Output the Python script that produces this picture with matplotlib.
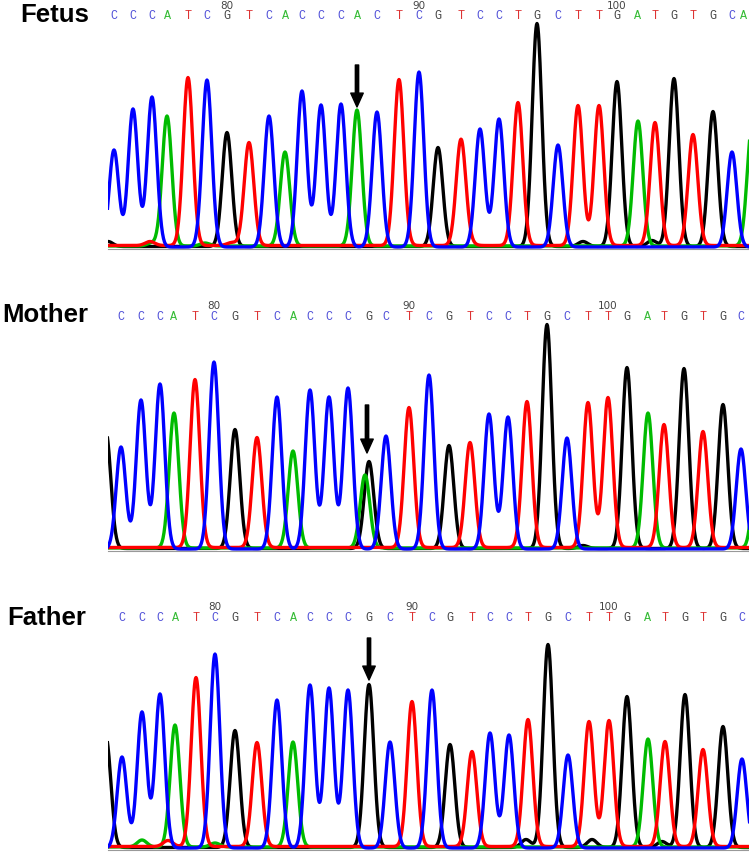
import numpy as np
import matplotlib
matplotlib.use('Agg')
import matplotlib.pyplot as plt

# base calls, peak positions (scan units) and peak heights
fetus_bases = list("CCCATCGTCACCCACTCGTCCTGCTTGATGTGCA")
fetus_pos = [114, 133, 152, 167, 188, 207, 227, 249, 269, 285,
             302, 321, 341, 357, 377, 399, 419, 438, 461, 480,
             499, 518, 537, 558, 578, 599, 617, 638, 655, 674,
             693, 713, 732, 752]
fetus_height = [97, 138, 150, 130, 168, 167, 114, 103, 131, 94,
                156, 142, 143, 136, 135, 166, 175, 99, 106, 118,
                128, 143, 223, 102, 140, 140, 165, 125, 123, 168,
                111, 135, 95, 120]
fetus_first_num = 74
fetus_arrow = [357, 182, 140]

mother_bases = list("CCCATCGTCACCCGCTCGTCCTGCTTGATGTGC")
mother_pos = [121, 141, 160, 174, 195, 214, 235, 257, 277, 293,
              310, 329, 348, 369, 386, 409, 429, 449, 470, 489,
              508, 527, 547, 567, 588, 608, 627, 648, 664, 684,
              703, 723, 741]
mother_height = [102, 149, 165, 135, 168, 187, 119, 110, 152, 97,
                 159, 152, 161, 87, 113, 140, 174, 103, 105, 135,
                 132, 146, 224, 111, 145, 150, 181, 135, 123, 180,
                 116, 144, 100]
mother_first_num = 75
mother_arrow = [367, 144, 96]

father_bases = list("CCCATCGTCACCCGCTCGTCCTGCTTGATGTGC")
father_pos = [122, 142, 160, 175, 196, 215, 235, 257, 277, 293,
              310, 329, 348, 369, 390, 412, 432, 450, 472, 490,
              509, 528, 548, 568, 589, 609, 627, 648, 665, 685,
              703, 723, 742]
father_height = [91, 136, 154, 122, 169, 194, 117, 104, 148, 105,
                 163, 160, 158, 163, 106, 145, 158, 103, 95, 115,
                 113, 127, 203, 93, 125, 126, 151, 108, 105, 153,
                 97, 121, 89]
father_first_num = 75
father_arrow = [369, 210, 168]

# secondary peaks / baseline bumps (base, position, height)
fetus_extra = [('G', 108, 5), ('T', 150, 4), ('A', 152, 3), ('A', 205, 3),
               ('T', 232, 3), ('T', 470, 2), ('G', 583, 5), ('G', 652, 6)]
mother_extra = [('G', 106, 116), ('A', 365, 73), ('A', 758, 110), ('G', 583, 3)]
father_extra = [('G', 106, 110), ('A', 142, 7), ('T', 168, 6), ('A', 215, 4),
                ('G', 526, 8), ('G', 592, 8), ('G', 662, 6)]

trace_col = {'G': 'black', 'A': '#00bb00', 'T': '#ff0000', 'C': '#0000ff'}
letter_col = {'G': '#444444', 'A': '#33bb33', 'T': '#dd3333', 'C': '#5050d8'}

W, H = 749, 852
fig = plt.figure(figsize=(W / 100, H / 100), dpi=100)

xs = np.arange(95, 770, 0.5)
sigma = 4.8


def panel(name, name_xy, baseline_px, bases, pos, height, extra, first_num, arrow, num_dy, letter_dy):
    ax = fig.add_axes([108 / W, 1 - (baseline_px + 2) / H, (W - 108) / W, 230 / H])
    peaks = [(b, p, h) for b, p, h in zip(bases, pos, height)] + extra
    offs = {'G': 0.5, 'A': 1.0, 'T': 1.5, 'C': 0.0}
    for b in ['G', 'A', 'T', 'C']:
        y = np.zeros_like(xs) + offs[b]
        for bb, p, h in peaks:
            if bb == b:
                y += h * np.exp(-(xs - p) ** 2 / (2 * sigma ** 2))
        ax.plot(xs, y, color=trace_col[b], lw=2.4, solid_joinstyle='round')
    ax.set_xlim(108, 749)
    ax.set_ylim(-2, 228)
    for i, (b, p) in enumerate(zip(bases, pos)):
        ax.text(min(p, 744), letter_dy, b, color=letter_col[b], fontsize=8.5, family='Liberation Mono',
                ha='center', va='center', clip_on=False)
        n = first_num + i
        if n % 10 == 0:
            ax.text(p, num_dy, str(n), color='#444444', fontsize=7.5, family='DejaVu Sans',
                    ha='center', va='center', clip_on=False)
    ax.annotate('', xy=(arrow[0], arrow[2]), xytext=(arrow[0], arrow[1]),
                arrowprops=dict(facecolor='black', edgecolor='black', width=2.4,
                                headwidth=9, headlength=10, shrink=0))
    for s in ['top', 'left', 'right']:
        ax.spines[s].set_visible(False)
    ax.spines['bottom'].set_color('#999999')
    ax.set_xticks([])
    ax.set_yticks([])
    ax.patch.set_alpha(0)
    fig.text(name_xy[0] / W, 1 - name_xy[1] / H, name, fontsize=18.5, fontweight='bold',
             family='Liberation Sans', va='baseline', ha='left')


panel('Fetus', (20, 22), 247, fetus_bases, fetus_pos, fetus_height, fetus_extra,
      fetus_first_num, fetus_arrow, 241, 231)
panel('Mother', (2, 322), 549, mother_bases, mother_pos, mother_height, mother_extra,
      mother_first_num, mother_arrow, 243, 232)
panel('Father', (7, 625), 848, father_bases, father_pos, father_height, father_extra,
      father_first_num, father_arrow, 241, 230)

fig.savefig('out.png', dpi=100)
